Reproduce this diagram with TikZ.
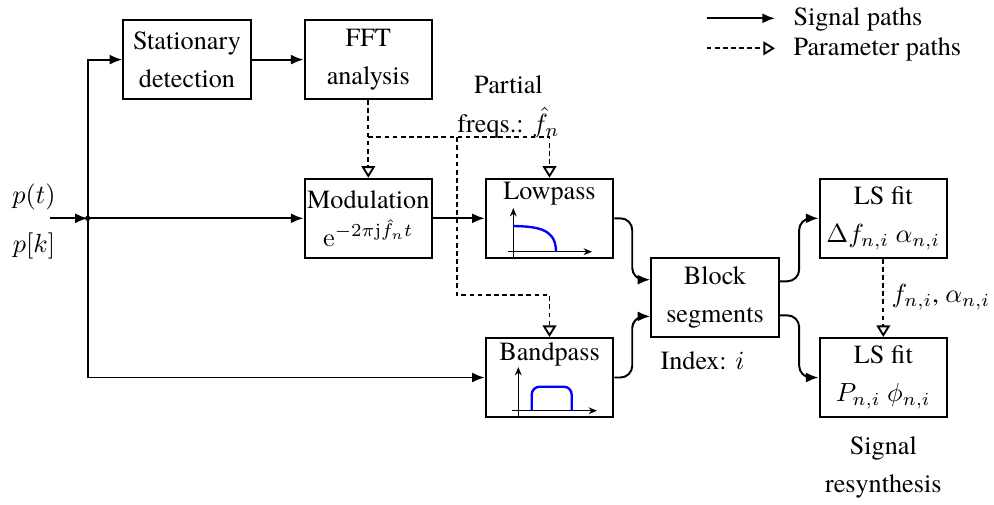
\documentclass[tikz,border=0pt]{standalone}
\usepackage[no-math]{fontspec}
\setmainfont{texgyretermes}[Extension=.otf,UprightFont=*-regular,ItalicFont=*-italic,BoldFont=*-bold,BoldItalicFont=*-bolditalic,Ligatures=TeX]
\usetikzlibrary{arrows.meta,calc}
\begin{document}
\begin{tikzpicture}[x=0.3817pt,y=-0.3817pt,
  box/.style={draw,line width=0.85pt,minimum width=48.6pt,minimum height=30.1pt,inner sep=0pt,align=center,font=\fontsize{10}{14.6}\selectfont,execute at begin node={\rule{0pt}{10.2pt}}},
  txt/.style={align=center,inner sep=0pt,font=\fontsize{10}{14.6}\selectfont},
  sig/.style={line width=0.75pt,-{Latex[length=4.8pt,width=3.8pt]}},
  par/.style={line width=0.7pt,dash pattern=on 1.8pt off 1.3pt,-{Triangle[open,length=4.4pt,width=5.2pt,line width=0.7pt]}},
  ax/.style={line width=0.5pt,-{Stealth[length=3.2pt,width=2.6pt]}},
  resp/.style={blue,line width=0.9pt},
  curv/.style={sig,rounded corners=4.5pt}]
\useasboundingbox (0,0) rectangle (994,504);

% boxes
\node[box] (sd)  at (187,59.6)    {Stationary\\detection};
\node[box] (fft) at (368.3,59.6)  {FFT\\analysis};
\node[box] (mod) at (368.3,218.3) {Modulation\\$\mathrm{e}^{-2\pi\mathrm{j}\hat{f}_n t}$};
\node[box] (lp)  at (549.5,218.3) {};
\node[box] (bp)  at (549.5,377.5) {};
\node[box] (blk) at (715,297.5)   {Block\\segments};
\node[box] (ls1) at (883.3,218.3) {LS fit\\$\Delta f_{n,i}\ \alpha_{n,i}$};
\node[box] (ls2) at (883.3,377.5) {LS fit\\$P_{n,i}\ \phi_{n,i}$};

% lowpass content
\node[txt] (lpt) at (549.5,194) {Lowpass};
\draw[ax] (508,251.7) -- (592,251.7);
\draw[ax] (513.3,257.5) -- (513.3,208);
\draw[resp] (513.3,226) .. controls (538,226.5) and (556,229) .. (556,251.7);

% bandpass content
\node[txt] (bpt) at (549.5,354) {Bandpass};
\draw[ax] (511.7,410.7) -- (597,410.7);
\draw[ax] (518.3,417) -- (518.3,367);
\draw[resp,rounded corners=3pt] (531.7,410.7) -- (531.7,386.7) -- (571.7,386.7) -- (571.7,410.7);

% texts
\node[txt] (pt)  at (34,197) {$p(t)$};
\node[txt] (pk)  at (34,246) {$p[k]$};
\node[txt] (pfl) at (508.5,107) {Partial\\freqs.: $\hat{f}_n$};
\node[txt] (idx) at (702.5,361) {Index: $i$};
\node[txt] (res) at (883.3,467.5) {Signal\\resynthesis};
\node[txt,anchor=west] (fal) at (891,297) {$f_{n,i}$, $\alpha_{n,i}$};

% signal paths
\coordinate (inp) at (50,218.3);
\coordinate (j) at (87.7,218.3);
\draw[sig] (inp) -- (j);
\fill (j) circle (1pt);
\draw[sig] (j) -- (mod.west);
\draw[sig] (j) |- (sd.west);
\draw[sig] (j) |- (bp.west);
\draw[sig] (sd.east) -- (fft.west);
\draw[sig] (mod.east) -- (lp.west);
\draw[curv] (lp.east) -| ($(lp.east)!0.5!(blk.west)$) |- ([yshift=6.8pt]blk.west);
\draw[curv] (bp.east) -| ($(bp.east)!0.5!(blk.west)$) |- ([yshift=-7.2pt]blk.west);
\draw[curv] ([yshift=6.2pt]blk.east) -| ($(blk.east)!0.5!(ls1.west)$) |- (ls1.west);
\draw[curv] ([yshift=-6.8pt]blk.east) -| ($(blk.east)!0.5!(ls2.west)$) |- (ls2.west);

% parameter paths
\coordinate (pa) at (368.3,137.3);
\coordinate (pb) at (456.7,137.3);
\coordinate (pc) at (456.7,295);
\draw[par] (fft.south) -- (mod.north);
\draw[par] (pa) -| (lp.north);
\draw[par] (pb) -- (pc) -| (bp.north);
\draw[par] (ls1.south) -- (ls2.north);

% legend
\coordinate (l1a) at (706.7,18.3);
\coordinate (l1b) at (775,18.3);
\draw[sig] (l1a) -- (l1b);
\node[txt,anchor=west] (l1t) at (793,19) {Signal paths};
\coordinate (l2a) at (706.7,48.3);
\coordinate (l2b) at (775,48.3);
\draw[par] (l2a) -- (l2b);
\node[txt,anchor=west] (l2t) at (793,49) {Parameter paths};
\end{tikzpicture}
\end{document}
